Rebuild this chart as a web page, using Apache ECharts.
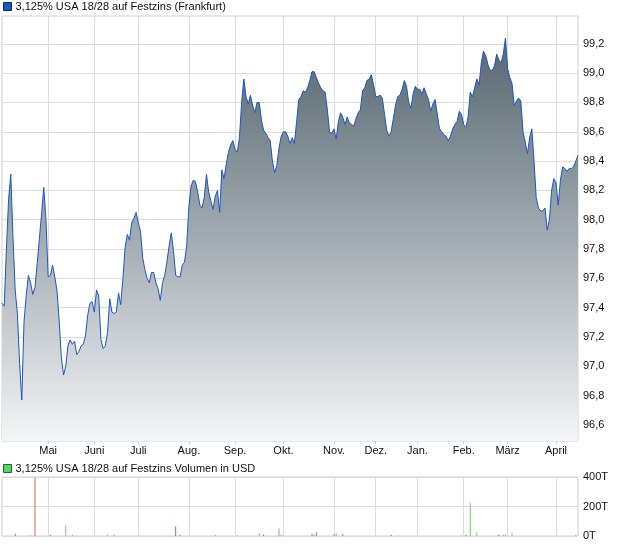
<!DOCTYPE html>
<html>
<head>
<meta charset="utf-8">
<script src="https://cdn.jsdelivr.net/npm/echarts@6/dist/echarts.min.js"></script>
<style>html,body{margin:0;padding:0;background:#fff}#c{width:620px;height:546px}</style>
</head>
<body>
<div id="c"></div>
<script>
const priceTitle = '3,125% USA 18/28 auf Festzins (Frankfurt)';
const volumeTitle = '3,125% USA 18/28 auf Festzins Volumen in USD';
const prices = [
97.43,97.41,97.80,98.14,98.31,97.88,97.52,97.36,97.02,96.77,
97.30,97.48,97.62,97.57,97.49,97.54,97.70,97.87,98.04,98.22,
98.00,97.61,97.62,97.69,97.61,97.52,97.31,97.06,96.94,97.00,
97.14,97.18,97.15,97.17,97.08,97.10,97.14,97.15,97.21,97.35,
97.43,97.44,97.37,97.52,97.48,97.18,97.12,97.14,97.23,97.46,
97.37,97.36,97.37,97.50,97.42,97.60,97.81,97.90,97.86,97.98,
98.01,98.05,97.98,97.92,97.74,97.66,97.60,97.57,97.64,97.64,
97.57,97.53,97.45,97.57,97.62,97.71,97.82,97.91,97.79,97.62,
97.61,97.61,97.69,97.71,97.82,98.09,98.23,98.27,98.26,98.19,
98.10,98.08,98.15,98.31,98.19,98.13,98.07,98.16,98.20,98.05,
98.34,98.28,98.38,98.46,98.51,98.54,98.48,98.46,98.56,98.80,
98.96,98.84,98.79,98.85,98.78,98.73,98.80,98.80,98.68,98.61,
98.59,98.56,98.54,98.40,98.32,98.37,98.49,98.57,98.60,98.60,
98.57,98.52,98.56,98.52,98.67,98.82,98.84,98.88,98.87,98.90,
98.95,99.01,99.01,98.97,98.93,98.90,98.88,98.87,98.75,98.60,
98.59,98.62,98.55,98.67,98.73,98.70,98.65,98.70,98.66,98.65,
98.64,98.69,98.73,98.75,98.88,98.90,98.95,98.96,98.99,98.92,
98.84,98.84,98.85,98.83,98.72,98.61,98.57,98.60,98.69,98.78,
98.84,98.85,98.89,98.95,98.91,98.80,98.76,98.86,98.91,98.89,
98.89,98.86,98.90,98.86,98.82,98.74,98.79,98.82,98.72,98.62,
98.60,98.58,98.57,98.54,98.57,98.62,98.65,98.67,98.74,98.72,
98.65,98.63,98.70,98.87,98.84,98.90,98.96,98.92,99.07,99.15,
99.12,99.06,99.02,99.02,99.05,99.13,99.09,99.07,99.13,99.24,
99.03,98.97,98.93,98.78,98.81,98.83,98.81,98.60,98.53,98.45,
98.56,98.62,98.40,98.15,98.08,98.06,98.06,98.08,97.93,98.00,
98.20,98.28,98.25,98.10,98.27,98.36,98.35,98.33,98.35,98.35,
98.36,98.40,98.44
];
const monthLabels = ['Mai','Juni','Juli','Aug.','Sep.','Okt.','Nov.','Dez.','Jan.','Feb.','März','April'];
const monthStartIdx = [21,42,62,85,106,128,151,170,189,210,230,252];
const priceTicks = [96.6,96.8,97.0,97.2,97.4,97.6,97.8,98.0,98.2,98.4,98.6,98.8,99.0,99.2];
const volIdx  = [6,13,15,22,29,32,48,51,79,81,97,107,117,119,126,127,141,142,143,151,152,155,177,181,209,211,213,216,226,228,229,232,261];
const volVals = [16,3,395,9,71,9,9,11,64,9,9,3,18,11,51,9,16,11,25,11,18,16,9,3,3,9,225,23,11,9,9,23,9];
const volDir  = ['d','d','d','d','u','u','u','u','d','d','u','d','u','d','u','u','d','u','d','d','u','d','d','u','u','d','u','u','d','u','u','n','u'];
const volTicks = [0,200,400];

const categories = prices.map((_, i) => String(i));
const dirColor = {u:'#5fd35f', d:'#e05a5a', n:'#b0b0b0'};
const volData = categories.map(() => null);
volIdx.forEach((idx, k) => {
  volData[idx] = {value: volVals[k], itemStyle: {color: dirColor[volDir[k]]}};
});
const monthSet = new Set(monthStartIdx);
const isMonth = (i) => monthSet.has(i);
const fmtNum = (v) => v.toFixed(1).replace('.', ',');
const FONT = 'Liberation Sans, Arial, sans-serif';

const chart = echarts.init(document.getElementById('c'), null, {renderer: 'canvas'});
chart.setOption({
  animation: false,
  textStyle: {fontFamily: FONT},
  legend: [
    {left: 1, top: 0, itemWidth: 8, itemHeight: 8, itemGap: 4, icon: 'rect',
     data: [{name: priceTitle, itemStyle: {color: '#1c55c4', borderColor: '#0c2a66', borderWidth: 1}}],
     textStyle: {fontSize: 11, color: '#111', fontFamily: FONT, padding: [0,0,0,-1]}, padding: [1,2,2,2], selectedMode: false},
    {left: 1, top: 462, itemWidth: 8, itemHeight: 8, itemGap: 4, icon: 'rect',
     data: [{name: volumeTitle, itemStyle: {color: '#5fd35f', borderColor: '#1f6f1f', borderWidth: 1}}],
     textStyle: {fontSize: 11, color: '#111', fontFamily: FONT, padding: [0,0,0,-1]}, padding: [1,2,2,2], selectedMode: false}
  ],
  grid: [
    {left: 2, right: 42, top: 16, bottom: 105, show: true, borderColor: '#d0d0d0', borderWidth: 1, backgroundColor: 'transparent'},
    {left: 2, right: 42, top: 477, bottom: 10, show: true, borderColor: '#d0d0d0', borderWidth: 1, backgroundColor: 'transparent'}
  ],
  xAxis: [
    {type: 'category', gridIndex: 0, data: categories, boundaryGap: false,
     axisLine: {show: false},
     axisTick: {show: true, interval: (i) => isMonth(i), length: 3, inside: false, lineStyle: {color: '#d0d0d0'}},
     axisLabel: {interval: (i) => isMonth(i), formatter: (v, i) => monthLabels[monthStartIdx.indexOf(i)] || '', fontSize: 11, color: '#111', margin: 4, fontFamily: FONT},
     splitLine: {show: true, interval: (i) => isMonth(i), lineStyle: {color: '#dcdcdc', width: 1}}},
    {type: 'category', gridIndex: 1, data: categories, boundaryGap: false,
     axisLine: {show: false}, axisTick: {show: false}, axisLabel: {show: false},
     splitLine: {show: true, interval: (i) => isMonth(i), lineStyle: {color: '#dcdcdc', width: 1}}}
  ],
  yAxis: [
    {type: 'value', gridIndex: 0, position: 'right', min: 96.49, max: 99.39,
     axisLine: {show: false},
     axisTick: {show: false, customValues: priceTicks},
     axisLabel: {customValues: priceTicks, formatter: (v) => fmtNum(v), fontSize: 11, color: '#111', margin: 5, fontFamily: FONT},
     splitLine: {show: true, lineStyle: {color: '#dcdcdc', width: 1}}},
    {type: 'value', gridIndex: 1, position: 'right', min: 0, max: 400, interval: 200,
     axisLine: {show: false}, axisTick: {show: false},
     axisLabel: {formatter: (v) => v + 'T', fontSize: 11, color: '#111', margin: 5, fontFamily: FONT},
     splitLine: {show: true, lineStyle: {color: '#dcdcdc', width: 1}}}
  ],
  series: [
    {name: priceTitle, type: 'line', xAxisIndex: 0, yAxisIndex: 0, data: prices,
     symbol: 'none', showSymbol: false, lineStyle: {color: '#1c55c4', width: 1}, itemStyle: {color: '#1c55c4'},
     areaStyle: {origin: 'start', opacity: 1, color: new echarts.graphic.LinearGradient(0, 0, 0, 1, [
       {offset: 0, color: '#56666f'}, {offset: 0.5, color: '#a3acb2'}, {offset: 1, color: '#f4f5f7'}])}},
    {name: volumeTitle, type: 'bar', xAxisIndex: 1, yAxisIndex: 1, data: volData,
     barWidth: 1, itemStyle: {color: '#5fd35f'}}
  ]
});
</script>
</body>
</html>
